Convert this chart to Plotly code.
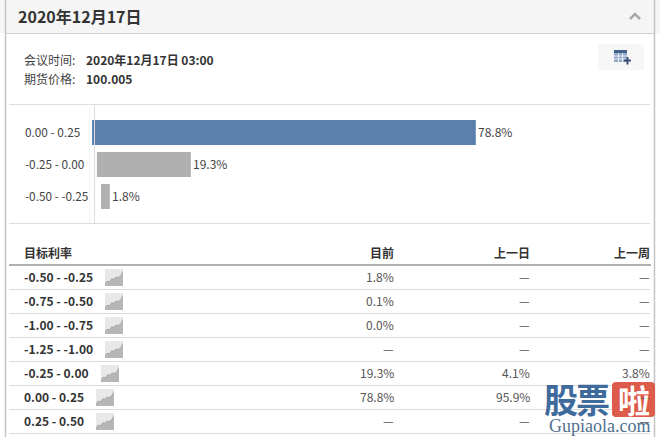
import plotly.graph_objects as go

W, H = 660, 437
FONT = "Noto Sans CJK SC"
TXT = "#333333"

# ---- data ----
bar_categories = ["0.00 - 0.25", "-0.25 - 0.00", "-0.50 - -0.25"]
bar_values = [78.8, 19.3, 1.8]
bar_bases = [-0.4, 0.6, 1.45]
bar_colors = ["#5b80ad", "#b0b0b0", "#b0b0b0"]

title = "2020年12月17日"
meta_labels = ["会议时间:", "期货价格:"]
meta_values = ["2020年12月17日 03:00", "100.005"]

table_headers = ["目标利率", "目前", "上一日", "上一周"]
rate_labels = ["-0.50 - -0.25", "-0.75 - -0.50", "-1.00 - -0.75", "-1.25 - -1.00",
               "-0.25 - 0.00", "0.00 - 0.25", "0.25 - 0.50"]
col_current = ["1.8%", "0.1%", "0.0%", "—", "19.3%", "78.8%", "—"]
col_prev_day = ["—", "—", "—", "—", "4.1%", "95.9%", "—"]
col_prev_week = ["—", "—", "—", "—", "3.8%", "—", "—"]

spark_values = [2, 4, 3.5, 6, 5.5, 7.5, 7, 8.5, 12]


def px(x):
    return x / W


def py(y):
    return 1 - y / H


def rect(x0, y0, x1, y1, fill, layer="below"):
    return dict(type="rect", xref="paper", yref="paper", x0=px(x0), x1=px(x1),
                y0=py(y0), y1=py(y1), fillcolor=fill, line_width=0, layer=layer)


def hline(y, x0, x1, color, width=1):
    return dict(type="line", xref="paper", yref="paper", x0=px(x0), x1=px(x1),
                y0=py(y), y1=py(y), line=dict(color=color, width=width), layer="below")


def vline(x, y0, y1, color, width=1, layer="below"):
    return dict(type="line", xref="paper", yref="paper", x0=px(x), x1=px(x),
                y0=py(y0), y1=py(y1), line=dict(color=color, width=width), layer=layer)


def label(x, y, text, size=12, color=TXT, anchor="left", bold=False, family=FONT):
    if bold:
        text = "<b>" + text + "</b>"
    return dict(xref="paper", yref="paper", x=px(x), y=py(y), text=text, showarrow=False,
                xanchor=anchor, yanchor="middle", align=anchor,
                font=dict(size=size, color=color, family=family), borderpad=0)


fig = go.Figure()

# main horizontal bars
fig.add_trace(go.Bar(
    y=bar_categories, x=bar_values, base=bar_bases, orientation="h",
    marker=dict(color=bar_colors, line_width=0), hoverinfo="skip",
    width=25 / 32,
))

shapes = [
    rect(0, 0, 660, 33, "#f5f5f5"),
    hline(33.5, 5, 655, "#cfcfcf"),
    vline(5.5, 0, 437, "#c4c4c4", 1.5),
    vline(654.5, 0, 437, "#c4c4c4", 1.5),
    hline(104.5, 9, 650, "#dddddd"),
    hline(223.5, 9, 650, "#dddddd"),
    vline(94.5, 104, 223, "#dcdcdc", 1, layer="above"),
    vline(89.5, 104, 223, "#f4f4f4"),
    hline(265, 9, 651, "#b0b0b0", 2),
    rect(598, 44, 644, 70, "#f7f7f7"),
    # calendar-table icon
    rect(614, 50, 627, 53, "#44608c"),
    rect(614, 53, 627, 62, "#8fa8c8"),
    hline(56, 614, 627, "#e8eef6"),
    hline(59, 614, 627, "#e8eef6"),
    vline(618.5, 53, 62, "#e8eef6"),
    vline(622.5, 53, 62, "#e8eef6"),
    rect(624, 59.5, 631, 61.5, "#3e4f75", layer="above"),
    rect(626.5, 57, 628.5, 64.5, "#3e4f75", layer="above"),
    # collapse chevron
    dict(type="path", xref="paper", yref="paper",
         path=f"M {px(630)} {py(19)} L {px(635)} {py(14)} L {px(640)} {py(19)}",
         line=dict(color="#a8a8a8", width=2.5), layer="above"),
    # watermark badge
    dict(type="path", xref="paper", yref="paper",
         path=(f"M {px(616)} {py(382)} L {px(651)} {py(382)} Q {px(655)} {py(382)} {px(655)} {py(386)} "
               f"L {px(655)} {py(413)} Q {px(655)} {py(417)} {px(651)} {py(417)} L {px(616)} {py(417)} "
               f"Q {px(612)} {py(417)} {px(612)} {py(413)} L {px(612)} {py(386)} Q {px(612)} {py(382)} {px(616)} {py(382)} Z"),
         fillcolor="#dd5b4b", line_width=0, layer="above"),
]

row_centers = [276.5 + 24 * i for i in range(len(rate_labels))]
for i in range(len(rate_labels)):
    shapes.append(hline(289.5 + 24 * i, 9, 650, "#dcdcdc"))

ann = [
    label(17, 16, title, size=16, color="#333333", bold=True),
    label(23, 59, meta_labels[0], size=12, color="#444444"),
    label(23, 79, meta_labels[1], size=12, color="#444444"),
    label(85, 59, meta_values[0], size=12, bold=True),
    label(85, 79, meta_values[1], size=12, bold=True),
    label(23, 252.5, table_headers[0], size=12, bold=True),
    label(395, 252.5, table_headers[1], size=12, anchor="right", bold=True),
    label(531, 252.5, table_headers[2], size=12, anchor="right", bold=True),
    label(651, 252.5, table_headers[3], size=12, anchor="right", bold=True),
]
for cat, val, base in zip(bar_categories, bar_values, bar_bases):
    ann.append(dict(xref="paper", yref="y", x=px(22.5), y=cat, text=cat, showarrow=False,
                    xanchor="left", yanchor="middle", yshift=1.5,
                    font=dict(size=11.8, color="#444444", family=FONT)))
    ann.append(dict(xref="x", yref="y", x=base + val, y=cat, text=f"{val}%", showarrow=False,
                    xanchor="left", yanchor="middle", yshift=1.5, xshift=0,
                    font=dict(size=12, color="#444444", family=FONT)))

icon_left = [105, 105, 105, 105, 101, 96, 96]
layout_axes = {}
for i, rc in enumerate(row_centers):
    ann.append(label(23, rc, rate_labels[i], size=12, bold=True))
    ann.append(label(395, rc, col_current[i], size=12, color="#555555", anchor="right"))
    ann.append(label(531, rc, col_prev_day[i], size=12, color="#555555", anchor="right"))
    ann.append(label(651, rc, col_prev_week[i], size=12, color="#555555", anchor="right"))
    # sparkline thumbnail on its own small axes
    k = i + 2
    x0, x1 = icon_left[i], icon_left[i] + 18
    y0, y1 = rc - 7.5, rc + 9.5
    shapes.append(rect(x0, y0, x1, y1, "#e8e8e8"))
    layout_axes[f"xaxis{k}"] = dict(domain=[px(x0), px(x1)], range=[0, len(spark_values) - 1],
                                    visible=False, fixedrange=True, anchor=f"y{k}")
    layout_axes[f"yaxis{k}"] = dict(domain=[py(y1), py(y0)], range=[0, 14],
                                    visible=False, fixedrange=True, anchor=f"x{k}")
    fig.add_trace(go.Scatter(x=list(range(len(spark_values))), y=spark_values, xaxis=f"x{k}", yaxis=f"y{k}",
                             mode="lines", fill="tozeroy", fillcolor="#b6b6b6",
                             line=dict(color="#a0a0a0", width=0.8), hoverinfo="skip"))

# watermark
ann += [
    label(561, 398.5, "股", size=34, color="#3f6a9c", anchor="center", bold=True),
    label(593, 398.5, "票", size=34, color="#3f6a9c", anchor="center", bold=True),
    label(633.5, 398.5, "啦", size=32, color="#ffffff", anchor="center", bold=True),
    label(599, 425.5, "Gupiaola.com", size=18, color="#4f6f8f", anchor="center", family="Liberation Serif"),
]

# pixel scale: 4.87 px per percent, zero at x=94; rows 32 px apart, first centred at y=132.5
ax_left, ax_right = 9, 650
fig.update_layout(
    width=W, height=H, margin=dict(l=0, r=0, t=0, b=0), showlegend=False,
    paper_bgcolor="white", plot_bgcolor="rgba(0,0,0,0)",
    xaxis=dict(domain=[px(ax_left), px(ax_right)],
               range=[(ax_left - 94) / 4.87, (ax_right - 94) / 4.87],
               visible=False, fixedrange=True),
    yaxis=dict(domain=[py(223), py(104)], type="category",
               categoryorder="array", categoryarray=bar_categories,
               range=[(223 - 132.5) / 32, (104 - 132.5) / 32],
               visible=False, fixedrange=True),
    shapes=shapes, annotations=ann, **layout_axes,
)

fig.write_html("out.html", config={"displayModeBar": False},
               post_script="document.body.style.margin='0';")
